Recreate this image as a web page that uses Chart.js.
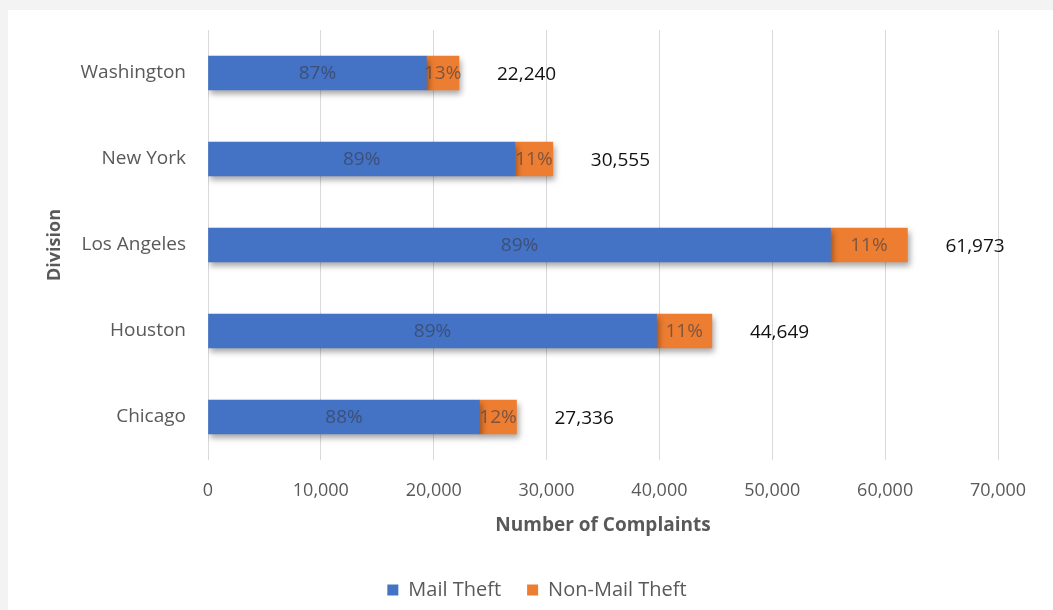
<!DOCTYPE html>
<html>
<head>
<meta charset="utf-8">
<script src="https://cdn.jsdelivr.net/npm/chart.js@4"></script>
<style>
  html, body { margin: 0; padding: 0; background: #f3f3f3; width: 1053px; height: 610px; overflow: hidden; }
  #wrap { position: absolute; left: 8px; top: 10px; width: 1045px; height: 600px; background: #fff; }
</style>
</head>
<body>
<div id="wrap"><canvas id="chart"></canvas></div>
<script>
const divisions = ["Washington", "New York", "Los Angeles", "Houston", "Chicago"];
const mailTheft = [19350, 27195, 55155, 39740, 24055];
const nonMailTheft = [2890, 3360, 6818, 4909, 3281];
const totals = ["22,240", "30,555", "61,973", "44,649", "27,336"];
const mailPct = ["87%", "89%", "89%", "89%", "88%"];
const nonMailPct = ["13%", "11%", "11%", "11%", "12%"];
const xTicks = [0, 10000, 20000, 30000, 40000, 50000, 60000, 70000];

const FONT = "'Open Sans', sans-serif";
const GRAY = "#595959";

// soft drop shadow under the bars, like the Excel original
const shadowPlugin = {
  id: "shadow",
  beforeDatasetsDraw(chart) {
    const c = chart.ctx;
    c.save();
    c.shadowColor = "rgba(0,0,0,0.35)";
    c.shadowBlur = 6;
    c.shadowOffsetX = 2;
    c.shadowOffsetY = 4;
  },
  afterDatasetsDraw(chart) {
    chart.ctx.restore();
  }
};

const labelPlugin = {
  id: "barLabels",
  afterDatasetsDraw(chart) {
    const c = chart.ctx;
    const pctSets = [mailPct, nonMailPct];
    c.save();
    c.textBaseline = "middle";
    c.font = "19px " + FONT;
    c.textAlign = "center";
    c.fillStyle = "rgba(55,60,75,0.62)";
    chart.data.datasets.forEach((ds, i) => {
      chart.getDatasetMeta(i).data.forEach((bar, j) => {
        c.fillText(pctSets[i][j], (bar.x + bar.base) / 2, bar.y + 1);
      });
    });
    const last = chart.getDatasetMeta(1).data;
    c.textAlign = "left";
    c.fillStyle = "#111";
    last.forEach((bar, j) => {
      c.fillText(totals[j], bar.x + 38, bar.y + 2);
    });
    c.restore();
  }
};

// y axis title drawn by hand so the legend can stay centred like the original
const yTitlePlugin = {
  id: "yTitle",
  afterDraw(chart) {
    const c = chart.ctx;
    const a = chart.chartArea;
    c.save();
    c.translate(47, (a.top + a.bottom) / 2);
    c.rotate(-Math.PI / 2);
    c.font = "bold 18px " + FONT;
    c.fillStyle = GRAY;
    c.textAlign = "center";
    c.textBaseline = "middle";
    c.fillText("Division", 0, 0);
    c.restore();
  }
};

new Chart(document.getElementById("chart"), {
  type: "bar",
  data: {
    labels: divisions,
    datasets: [
      { label: "Mail Theft", data: mailTheft, backgroundColor: "#4472C4", barThickness: 34 },
      { label: "Non-Mail Theft", data: nonMailTheft, backgroundColor: "#ED7D31", barThickness: 34 }
    ]
  },
  options: {
    indexAxis: "y",
    responsive: true,
    maintainAspectRatio: false,
    animation: false,
    layout: { padding: { left: 68, right: 55, top: 20, bottom: 0 } },
    plugins: {
      legend: {
        position: "bottom",
        labels: {
          boxWidth: 11, boxHeight: 11, padding: 26,
          color: GRAY,
          font: { family: FONT, size: 20 }
        }
      },
      tooltip: { enabled: false }
    },
    scales: {
      x: {
        stacked: true,
        min: 0,
        max: 70000,
        afterBuildTicks(scale) { scale.ticks = xTicks.map(v => ({ value: v })); },
        afterFit(scale) { scale.height = 94; },
        grid: { color: "#d9d9d9", drawTicks: false },
        border: { display: false },
        ticks: {
          padding: 20,
          color: GRAY,
          font: { family: FONT, size: 18 },
          callback: v => v.toLocaleString("en-US")
        },
        title: {
          display: true,
          text: "Number of Complaints",
          color: GRAY,
          font: { family: FONT, size: 19, weight: "bold" },
          padding: { top: 4, bottom: 17 }
        }
      },
      y: {
        stacked: true,
        afterFit(scale) {
          scale.width = 132;
          scale.paddingTop = 0;
          scale.paddingBottom = 0;
        },
        grid: { display: false },
        border: { display: false },
        ticks: {
          padding: 14,
          color: GRAY,
          font: { family: FONT, size: 19 }
        }
      }
    }
  },
  plugins: [shadowPlugin, labelPlugin, yTitlePlugin]
});
</script>
</body>
</html>
